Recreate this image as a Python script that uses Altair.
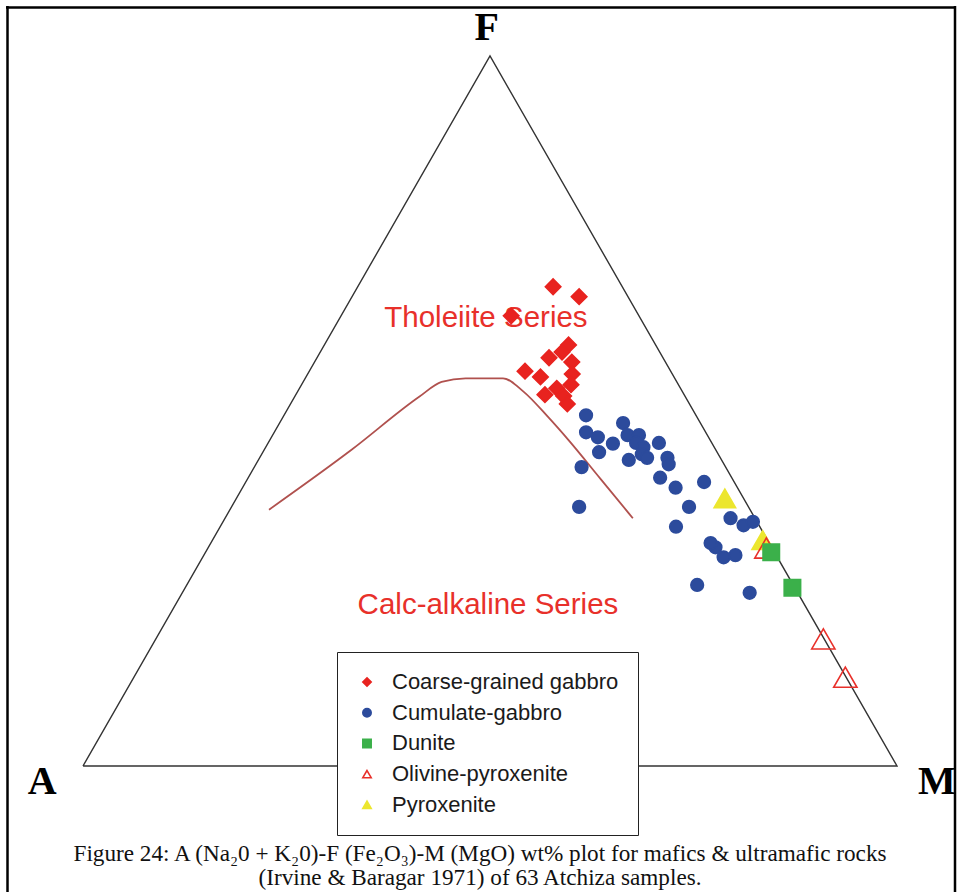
import altair as alt
import pandas as pd

# ---------------------------------------------------------------
# AFM ternary data (wt%): F = Fe2O3, M = MgO, A = 100 - F - M
# ---------------------------------------------------------------
GROUPS = ["Coarse-grained gabbro", "Cumulate-gabbro", "Dunite",
          "Olivine-pyroxenite", "Pyroxenite"]

coarse_F = [67.5, 66.1, 63.4, 59.3, 58.3, 57.5, 56.9, 55.6, 54.8, 55.2,
            53.7, 53.2, 52.3, 52.1, 51.0]
coarse_M = [24.0, 27.9, 20.9, 30.0, 29.7, 28.5, 31.6, 26.5, 28.8, 32.5,
            33.1, 31.6, 30.6, 33.0, 34.0]

cumulate_F = [49.4, 47.0, 46.3, 45.4, 44.2, 48.3, 46.6, 46.6, 45.5, 44.9,
              43.9, 43.1, 43.4, 45.5, 43.4, 42.5, 42.1, 40.6, 39.2, 40.0,
              36.5, 36.5, 33.7, 34.9, 33.9, 34.4, 30.8, 29.4, 29.7, 25.5,
              24.4, 31.4]
cumulate_M = [37.1, 38.3, 40.1, 42.4, 41.3, 42.2, 43.6, 45.0, 45.2, 46.4,
              46.7, 45.5, 47.6, 48.0, 50.1, 50.7, 40.2, 50.6, 53.2, 56.3,
              56.2, 42.7, 56.0, 62.1, 64.2, 65.1, 62.3, 64.0, 65.3, 62.7,
              69.7, 61.4]

pyroxenite_F = [37.7, 31.8]
pyroxenite_M = [60.0, 67.6]

olivine_F = [30.7, 17.9, 12.5]
olivine_M = [68.6, 82.0, 87.4]

dunite_F = [30.1, 25.1]
dunite_M = [69.5, 74.6]

# Irvine & Baragar (1971) tholeiitic / calc-alkaline boundary
curve_F = [36.1, 44.5, 52.0, 54.1, 54.6, 54.6, 52.7, 49.2, 45.9, 40.4, 34.9]
curve_M = [4.8, 10.7, 15.3, 17.0, 19.7, 24.3, 27.8, 32.5, 36.7, 43.4, 50.1]

# triangle outline: A -> M -> F -> A
frame_F = [0, 0, 100, 0]
frame_M = [0, 100, 0, 0]

# ---------------------------------------------------------------
rows = []
for g, fs, ms in [("Cumulate-gabbro", cumulate_F, cumulate_M),
                  ("Coarse-grained gabbro", coarse_F, coarse_M),
                  ("Pyroxenite", pyroxenite_F, pyroxenite_M),
                  ("Olivine-pyroxenite", olivine_F, olivine_M),
                  ("Dunite", dunite_F, dunite_M)]:
    for f, m in zip(fs, ms):
        rows.append({"group": g, "F": f, "M": m})
samples = pd.DataFrame(rows)
samples["order"] = range(len(samples))

curve = pd.DataFrame({"F": curve_F, "M": curve_M, "i": range(len(curve_F))})
outline = pd.DataFrame({"F": frame_F, "M": frame_M, "i": range(len(frame_F))})

# ternary -> cartesian: X = M + F/2, Y = F
XS = alt.Scale(domain=[-10.197, 107.862], nice=False, zero=False)
YS = alt.Scale(domain=[-17.746, 107.887], nice=False, zero=False)


def xy(chart):
    return chart.transform_calculate(X="datum.M + datum.F / 2")


x_enc = alt.X("X:Q", scale=XS, axis=None)
y_enc = alt.Y("F:Q", scale=YS, axis=None)

triangle = xy(alt.Chart(outline)).mark_line(
    color="#333333", strokeWidth=1.4
).encode(x=x_enc, y=y_enc, order="i:Q")

boundary = xy(alt.Chart(curve)).mark_line(
    color="#b0514e", strokeWidth=1.8, interpolate="monotone"
).encode(x=x_enc, y=y_enc, order="i:Q")

legend = alt.Legend(
    orient="none", legendX=337, legendY=652, title=None,
    fillColor="white", strokeColor="#222222", padding=19,
    labelFont="Liberation Sans", labelFontSize=22,
    labelColor="#1a1a1a", rowPadding=8.7, symbolSize=70,
    symbolStrokeWidth=1.6, labelOffset=14, labelLimit=400)

# marker size keyed on a copy of the group field so its (hidden) legend
# stays separate from the shape/fill/stroke legend
points = xy(alt.Chart(samples)).transform_calculate(
    size_key="datum.group"
).mark_point(
    strokeWidth=1.6, opacity=1
).encode(
    x=x_enc,
    y=y_enc,
    order="order:Q",
    shape=alt.Shape("group:N", scale=alt.Scale(
        domain=GROUPS,
        range=["diamond", "circle", "square", "triangle-up", "triangle-up"]),
        legend=legend),
    fill=alt.Fill("group:N", scale=alt.Scale(
        domain=GROUPS,
        range=["#e8231f", "#2c4b9c", "#3bb04a", "transparent", "#ece62e"]),
        legend=legend),
    stroke=alt.Stroke("group:N", scale=alt.Scale(
        domain=GROUPS,
        range=["#e8231f", "#2c4b9c", "#3bb04a", "#e8302a", "#ece62e"]),
        legend=legend),
    size=alt.Size("size_key:N", scale=alt.Scale(
        type="ordinal", range=[240, 160, 270, 540, 460]),
        legend=None),
)

series_labels = pd.DataFrame({
    "text": ["Tholeiite Series", "Calc-alkaline Series"],
    "X": [49.5, 49.75],
    "F": [63.1, 22.7],
})
series_text = alt.Chart(series_labels).mark_text(
    font="Liberation Sans", fontSize=29.5, color="#e8302a",
    align="center", baseline="middle"
).encode(x=x_enc, y=y_enc, text="text:N")

vertex_labels = pd.DataFrame({
    "text": ["F", "A", "M"],
    "X": [49.6, -5.0, 104.9],
    "F": [103.9, -2.2, -2.2],
})
vertex_text = alt.Chart(vertex_labels).mark_text(
    font="Liberation Serif", fontSize=40, fontWeight="bold",
    color="#000000", align="center", baseline="middle"
).encode(x=x_enc, y=y_enc, text="text:N")

caption = pd.DataFrame({"text": [
    "Figure 24: A (Na\u20820 + K\u20820)-F (Fe\u2082O\u2083)-M (MgO) wt% plot "
    "for mafics & ultramafic rocks\n(Irvine & Baragar 1971) of 63 Atchiza "
    "samples."]})
caption_text = alt.Chart(caption).mark_text(
    font="Liberation Serif", fontSize=23.2, color="#111111",
    align="center", baseline="alphabetic", lineBreak="\n", lineHeight=24
).encode(x=alt.value(480), y=alt.value(861), text="text:N")

one = pd.DataFrame({"k": [0]})
border_left = alt.Chart(one).mark_rule(color="#000000", strokeWidth=2.5).encode(
    x=alt.value(7.5), y=alt.value(6), y2=alt.value(892))
border_right = alt.Chart(one).mark_rule(color="#000000", strokeWidth=2.5).encode(
    x=alt.value(955), y=alt.value(6), y2=alt.value(892))
border_top = alt.Chart(one).mark_rule(color="#000000", strokeWidth=2.5).encode(
    x=alt.value(6), x2=alt.value(956), y=alt.value(7.5))

chart = alt.layer(
    triangle, boundary, series_text, points, vertex_text, caption_text,
    border_left, border_right, border_top
).properties(
    width=961, height=892, padding=0,
    autosize=alt.AutoSizeParams(type="none"),
    background="white",
).configure_view(stroke=None)

chart.save("out.html", embed_options={"renderer": "svg", "actions": False})
